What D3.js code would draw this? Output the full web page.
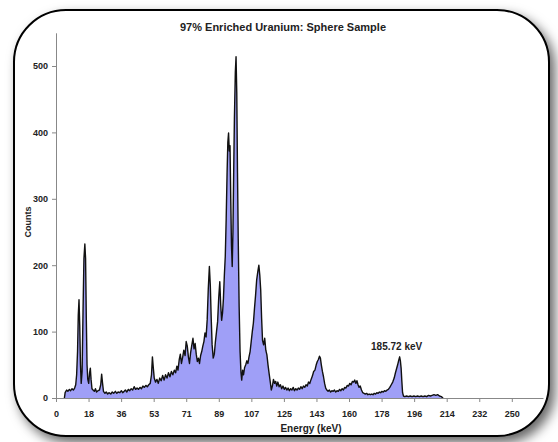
<!DOCTYPE html>
<html>
<head>
<meta charset="utf-8">
<script src="https://cdn.jsdelivr.net/npm/d3@7"></script>
<style>
  body { margin: 0; background: #fff; }
  svg { display: block; font-family: Arial, "Liberation Sans", sans-serif; }
</style>
</head>
<body>
<script>
// spectrum: [energy keV, counts]
const spectrum = [
  [0,0],[4.6,0],[5,8],[5.8,12],[6.5,10],[7.3,13],[8,11],[8.8,14],[9.5,12],[10.2,15],[10.8,20],
  [11.3,35],[11.8,70],[12.2,125],[12.6,148],[13.0,110],[13.4,50],[13.8,22],[14.3,40],[14.8,130],
  [15.3,210],[15.8,232],[16.2,210],[16.6,120],[17.0,50],[17.4,28],[17.9,22],[18.4,38],[18.8,45],
  [19.2,28],[19.7,14],[20.3,12],[21,10],[21.6,14],[22.2,9],[23,11],[23.8,12],[24.5,20],[25,36],
  [25.5,22],[26,10],[26.8,7],[27.5,9],[28.3,6],[29,8],[30,6],[30.8,9],[31.6,7],[32.5,10],[33.3,7],
  [34,9],[35,8],[35.8,11],[36.5,8],[37.3,10],[38,12],[38.8,9],[39.6,13],[40.4,11],[41.2,14],[42,12],
  [42.8,17],[43.6,13],[44.4,15],[45.2,13],[46,16],[46.8,14],[47.6,18],[48.4,16],[49.2,19],[50,17],
  [50.8,20],[51.6,22],[52.3,35],[52.8,62],[53.3,45],[53.8,30],[54.5,24],[55.3,28],[56,22],[56.8,30],
  [57.6,26],[58.4,34],[59.2,27],[60,35],[60.8,30],[61.6,38],[62.4,32],[63.2,40],[64,35],[64.8,42],
  [65.5,38],[66.2,48],[66.8,42],[67.5,58],[68.1,66],[68.7,52],[69.4,62],[70,72],[70.7,64],[71.3,85],
  [71.9,78],[72.5,62],[73.1,52],[73.7,68],[74.4,80],[75,90],[75.6,74],[76.2,82],[76.8,66],[77.4,55],
  [78,60],[78.6,52],[79.2,64],[79.8,70],[80.4,78],[81,85],[81.6,98],[82.2,92],[82.8,118],[83.4,165],
  [84,198],[84.5,170],[85,120],[85.5,80],[86.1,60],[86.7,66],[87.3,85],[87.9,100],[88.5,115],[89.1,150],
  [89.7,175],[90.2,140],[90.7,117],[91.2,128],[91.7,150],[92.2,185],[92.7,213],[93.2,270],[93.7,340],
  [94.1,385],[94.5,399],[94.9,372],[95.3,380],[95.7,300],[96.1,230],[96.5,198],[96.9,250],[97.3,339],
  [97.7,420],[98.2,490],[98.6,514],[99.0,460],[99.4,339],[99.8,240],[100.3,137],[100.8,70],[101.3,38],
  [101.7,27],[102.2,42],[102.7,35],[103.3,46],[103.9,50],[104.5,56],[105.1,52],[105.7,62],[106.3,70],
  [106.9,85],[107.5,100],[108.1,113],[108.7,135],[109.3,155],[109.9,178],[110.5,190],[111.1,200],
  [111.6,185],[112.1,163],[112.6,120],[113.1,87],[113.7,80],[114.3,90],[114.9,72],[115.5,65],[116.1,50],
  [116.7,37],[117.3,25],[117.9,12],[118.5,18],[119.1,28],[119.7,22],[120.3,25],[120.9,18],[121.5,24],
  [122.2,17],[122.9,20],[123.6,14],[124.3,18],[125,13],[125.7,16],[126.4,12],[127.1,15],[127.8,11],
  [128.5,14],[129.2,12],[129.9,16],[130.6,11],[131.3,14],[132,12],[132.7,15],[133.4,13],[134.1,17],
  [134.8,14],[135.5,18],[136.2,16],[136.9,20],[137.6,18],[138.3,24],[139,22],[139.7,28],[140.4,33],
  [141.1,40],[141.8,42],[142.5,50],[143.1,55],[143.7,58],[144.3,63],[144.8,60],[145.3,50],[145.9,40],
  [146.5,32],[147.1,22],[147.7,15],[148.3,12],[149,10],[149.7,12],[150.4,9],[151.1,11],[151.8,10],
  [152.5,12],[153.2,9],[153.9,11],[154.6,10],[155.3,13],[156,11],[156.7,14],[157.4,12],[158.1,16],
  [158.8,15],[159.5,19],[160.2,18],[160.9,22],[161.6,20],[162.3,25],[163,24],[163.6,27],[164.2,22],
  [164.8,26],[165.4,20],[166,16],[166.6,18],[167.3,12],[168,8],[168.7,7],[169.4,6],[170.1,7],[170.8,5],
  [171.5,6],[172.2,5],[172.9,6],[173.6,5],[174.3,7],[175,6],[175.7,8],[176.4,7],[177.1,9],[177.8,8],
  [178.5,10],[179.2,9],[179.9,11],[180.6,10],[181.3,12],[182,13],[182.8,16],[183.6,20],[184.4,24],
  [185.2,30],[185.9,38],[186.5,44],[187.1,50],[187.7,57],[188.2,62],[188.6,56],[189,45],[189.4,25],
  [189.8,8],[190.3,3],[191,2],[192,3],[193,2],[194,3],[195,2],[196,3],[197,2],[198,3],[199,2],[200,3],
  [201,2],[202,3],[203,2],[204,4],[205,3],[206,4],[207,5],[208,4],[209,5],[210,3],[211,2],[212,0]
];

// x ticks sit every 17.83 keV, labelled rounded
const xTickValues = [0, 17.83, 35.66, 53.49, 71.32, 89.15, 106.98, 124.81, 142.64, 160.47, 178.3, 196.13, 213.96, 231.79, 249.62];
const xTickLabels = ["0", "18", "36", "53", "71", "89", "107", "125", "143", "160", "178", "196", "214", "232", "250"];
const yTickValues = [0, 100, 200, 300, 400, 500];

const peakLabel = { energy: 188.2, counts: 62, text: "185.72 keV" };

function createChart() {
  const width = 558, height = 442;

  const svg = d3.select("body").append("svg")
    .attr("width", width)
    .attr("height", height);

  // drop shadow for the rounded frame
  const defs = svg.append("defs");
  const f = defs.append("filter").attr("id", "shadow")
    .attr("x", "-10%").attr("y", "-10%").attr("width", "125%").attr("height", "125%");
  f.append("feDropShadow")
    .attr("dx", 5).attr("dy", 6).attr("stdDeviation", 6)
    .attr("flood-color", "#000").attr("flood-opacity", 0.6);

  svg.append("rect")
    .attr("x", 14).attr("y", 10)
    .attr("width", 535).attr("height", 426)
    .attr("rx", 52).attr("ry", 52)
    .attr("fill", "#fff")
    .attr("stroke", "#000")
    .attr("stroke-width", 2)
    .attr("filter", "url(#shadow)");

  const x = d3.scaleLinear().domain([0, 266.7]).range([56, 543]);
  const y = d3.scaleLinear().domain([0, 550]).range([398, 32.8]);

  // area + outline
  const area = d3.area()
    .x(d => x(d[0]))
    .y0(y(0))
    .y1(d => y(d[1]));

  const line = d3.line()
    .x(d => x(d[0]))
    .y(d => y(d[1]));

  svg.append("path")
    .datum(spectrum)
    .attr("d", area)
    .attr("fill", "#9f9ff7");

  svg.append("path")
    .datum(spectrum.filter(d => d[0] >= 4.6))
    .attr("d", line)
    .attr("fill", "none")
    .attr("stroke", "#111")
    .attr("stroke-width", 1.4)
    .attr("stroke-linejoin", "round");

  // axes
  const xAxis = d3.axisBottom(x)
    .tickValues(xTickValues)
    .tickFormat((d, i) => xTickLabels[i])
    .tickSize(4)
    .tickSizeOuter(0);

  const gx = svg.append("g")
    .attr("transform", `translate(0,${y(0)})`)
    .call(xAxis);

  const yAxis = d3.axisLeft(y)
    .tickValues(yTickValues)
    .tickSize(4)
    .tickSizeOuter(0);

  const gy = svg.append("g")
    .attr("transform", `translate(${x(0)},0)`)
    .call(yAxis);

  [gx, gy].forEach(g => {
    g.select(".domain").attr("stroke", "#888");
    g.selectAll(".tick line").attr("stroke", "#888");
    g.selectAll(".tick text")
      .attr("fill", "#222")
      .style("font-size", "9px")
      .style("font-weight", "bold")
      .style("font-family", "Arial, 'Liberation Sans', sans-serif");
  });
  gx.selectAll(".tick text").attr("dy", "1.3em");
  gy.selectAll(".tick text").attr("x", -8);

  // titles
  svg.append("text")
    .attr("x", 283).attr("y", 31)
    .attr("text-anchor", "middle")
    .style("font-size", "11px")
    .style("font-weight", "bold")
    .attr("fill", "#222")
    .text("97% Enriched Uranium: Sphere Sample");

  svg.append("text")
    .attr("transform", "translate(31,222) rotate(-90)")
    .attr("text-anchor", "middle")
    .style("font-size", "9px")
    .style("font-weight", "bold")
    .attr("fill", "#222")
    .text("Counts");

  svg.append("text")
    .attr("x", 311).attr("y", 432)
    .attr("text-anchor", "middle")
    .style("font-size", "10px")
    .style("font-weight", "bold")
    .attr("fill", "#222")
    .text("Energy (keV)");

  svg.append("text")
    .attr("x", x(peakLabel.energy) - 3)
    .attr("y", y(peakLabel.counts) - 7)
    .attr("text-anchor", "middle")
    .style("font-size", "10px")
    .style("font-weight", "bold")
    .attr("fill", "#222")
    .text(peakLabel.text);
}

document.addEventListener("DOMContentLoaded", createChart);
</script>
</body>
</html>
